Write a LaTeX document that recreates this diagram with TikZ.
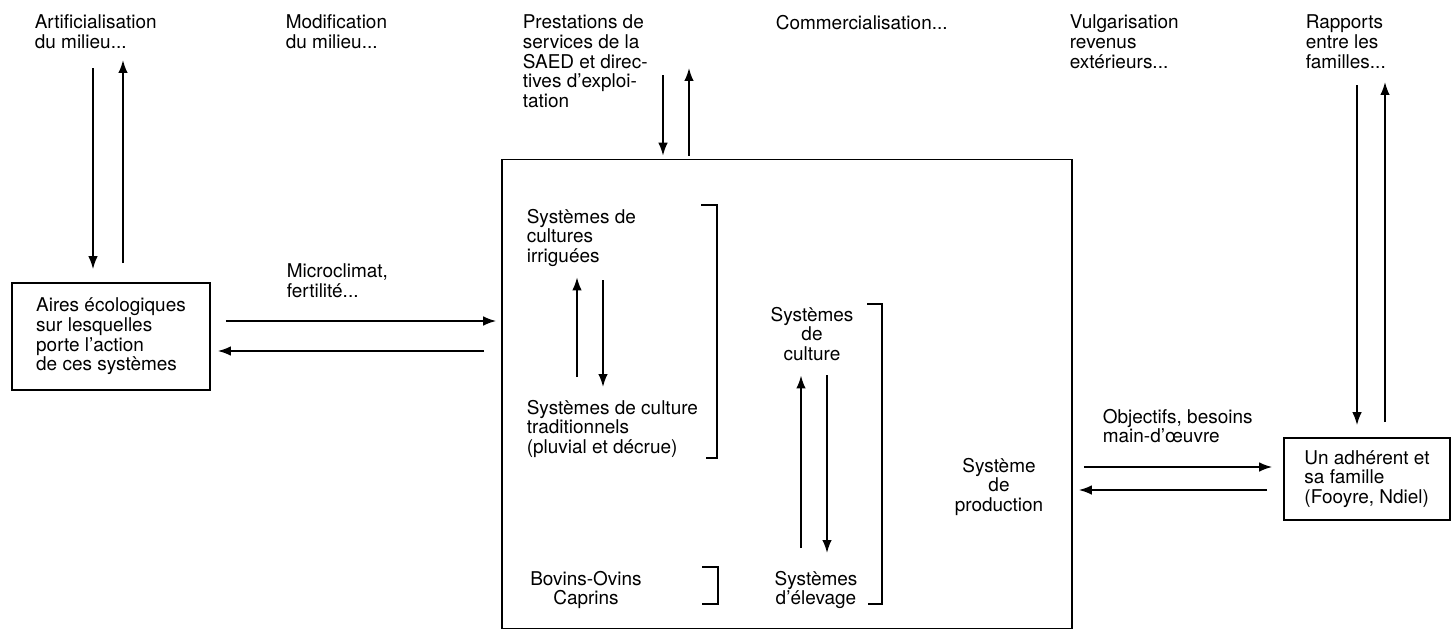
\documentclass[tikz,border=0pt]{standalone}
\usepackage{fontspec}
\setmainfont{TeX Gyre Heros}
\usetikzlibrary{positioning,arrows.meta,calc}

\begin{document}
\begin{tikzpicture}[x=0.02cm,y=-0.02cm,
      line width=0.95pt,
      >={Latex[length=2.6mm,width=1.9mm]},
      txt/.style={inner sep=0pt,align=left,font=\fontsize{10.8}{11.2}\selectfont},
      ctxt/.style={txt,align=center},
      box/.style={draw,txt,align=left}]
    \useasboundingbox (0,0) rectangle (1453,632);

    % labels along the top
    \node[txt,anchor=north west] (artif) at (34,14)   {Artificialisation\\du milieu...};
    \node[txt,anchor=north west] (modif) at (285,14)  {Modification\\du milieu...};
    \node[txt,anchor=north west] (prest) at (522,14)  {Prestations de\\services de la\\SAED et direc-\\tives d'exploi-\\tation};
    \node[txt,anchor=north west] (comm)  at (775,14)  {Commercialisation...};
    \node[txt,anchor=north west] (vulg)  at (1069,14) {Vulgarisation\\revenus\\extérieurs...};
    \node[txt,anchor=north west] (rapp)  at (1305,14) {Rapports\\entre les\\familles...};

    % the three boxes
    \node[box,minimum width=3.96cm,minimum height=2.14cm] (aires) at (111,336.5)
      {Aires écologiques\\sur lesquelles\\porte l'action\\de ces systèmes};
    \node[box,minimum width=11.4cm,minimum height=9.38cm] (prod) at (787,394) {};
    \node[box,minimum width=3.32cm,minimum height=1.64cm] (adh) at (1367,479)
      {Un adhérent et\\sa famille\\(Fooyre, Ndiel)};

    \node[txt,anchor=north west] (micro) at (286,263)  {Microclimat,\\fertilité...};
    \node[txt,anchor=north west] (obj)   at (1102,408) {Objectifs, besoins\\main-d'œuvre};

    % inside the production system
    \node[txt,anchor=north west] (irr)  at (526,208) {Systèmes de\\cultures\\irriguées};
    \node[txt,anchor=north west] (trad) at (526,399) {Systèmes de culture\\traditionnels\\(pluvial et décrue)};
    \node[ctxt,anchor=north] (bov)   at (586,570) {Bovins-Ovins\\Caprins};
    \node[ctxt,anchor=north] (cult)  at (812,306) {Systèmes\\de\\culture};
    \node[ctxt,anchor=north] (elev)  at (816,570) {Systèmes\\d'élevage};
    \node[ctxt,anchor=north] (sprod) at (999,457) {Système\\de\\production};

    \draw (701,205) -- (717,205) -- (717,458) -- (706,458);
    \draw (702,567) -- (718,567) -- (718,604) -- (702,604);
    \draw (867,304) -- (882,304) -- (882,604) -- (868,604);

    % vertical arrows
    \coordinate (artD) at (93,68);
    \coordinate (artU) at (123,60);
    \draw[->,shorten >=2.6mm] (artD) -- (artD |- aires.north);
    \draw[->,shorten <=3.8mm] (artU |- aires.north) -- (artU);
    \coordinate (prD) at (663,75);
    \coordinate (prU) at (689,68);
    \draw[->,shorten >=0.6mm] (prD) -- (prD |- prod.north);
    \draw[->,shorten <=0.6mm] (prU |- prod.north) -- (prU);
    \coordinate (rpD) at (1357,85);
    \coordinate (rpU) at (1385,82);
    \draw[->,shorten >=2.4mm] (rpD) -- (rpD |- adh.north);
    \draw[->,shorten <=3mm] (rpU |- adh.north) -- (rpU);

    % horizontal arrows
    \coordinate (mcR) at (0,321);
    \coordinate (mcL) at (0,351);
    \draw[->,shorten <=3mm,shorten >=1mm] (aires.east |- mcR) -- (prod.west |- mcR);
    \draw[->,shorten <=3.4mm,shorten >=1.4mm] (prod.west |- mcL) -- (aires.east |- mcL);
    \coordinate (obR) at (0,467);
    \coordinate (obL) at (0,490);
    \draw[->,shorten <=2.2mm,shorten >=2.2mm] (prod.east |- obR) -- (adh.west |- obR);
    \draw[->,shorten <=3.2mm,shorten >=1.2mm] (adh.west |- obL) -- (prod.east |- obL);

    % inner arrows
    \coordinate (itU) at (577,0);
    \coordinate (itD) at (603,0);
    \draw[->,shorten <=4.4mm,shorten >=2mm] (itU |- trad.north) -- (itU |- irr.south);
    \draw[->,shorten <=2.6mm,shorten >=2.4mm] (itD |- irr.south) -- (itD |- trad.north);
    \coordinate (ceU) at (801,0);
    \coordinate (ceD) at (827,0);
    \draw[->,shorten <=4.4mm,shorten >=2.8mm] (ceU |- elev.north) -- (ceU |- cult.south);
    \draw[->,shorten <=2.8mm,shorten >=3.4mm] (ceD |- cult.south) -- (ceD |- elev.north);
  \end{tikzpicture}
\end{document}
